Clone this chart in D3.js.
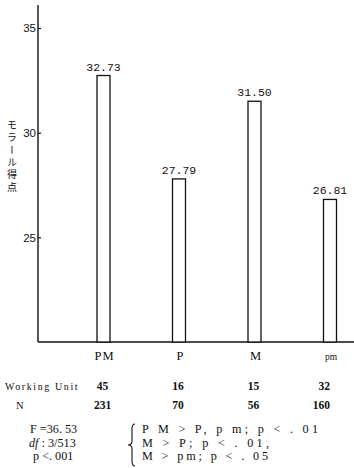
<!DOCTYPE html>
<html><head><meta charset="utf-8">
<script src="https://cdn.jsdelivr.net/npm/d3@7"></script>
<style>body{margin:0;background:#fff}svg{display:block}</style>
</head><body>
<script>
const categories = ["PM", "P", "M", "pm"];
const scores = [32.73, 27.79, 31.50, 26.81];
const scoreLabels = ["32.73", "27.79", "31.50", "26.81"];
const workingUnits = [45, 16, 15, 32];
const nValues = [231, 70, 56, 160];
const yTicks = [25, 30, 35];
const yLabel = "モラール得点";
const statsLeft = ["F =36. 53", "df : 3/513", "p <. 001"];
const statsRight = ["P M > P, p m; p < . 01", "M > P; p < . 01,", "M > pm; p < . 05"];

const W = 354, H = 468;
const svg = d3.select("body").append("svg").attr("width", W).attr("height", H);
const x0 = 38, yBase = 342;
const y = d3.scaleLinear().domain([20, 35]).range([yBase, 28]);
const x = d3.scalePoint().domain(categories).range([103.5, 330]);
const barW = 13;
const ink = "#111";
const serif = "Liberation Serif, Times New Roman, serif";

// y axis
const yAxis = d3.axisLeft(y).tickValues(yTicks).tickSize(-3).tickPadding(2).tickFormat(d3.format("d"));
const ga = svg.append("g").attr("transform", `translate(${x0},0)`).call(yAxis);
ga.select(".domain").remove();
ga.selectAll(".tick line").attr("stroke", ink).attr("stroke-width", 1.2);
ga.selectAll(".tick text").attr("font-family", "Liberation Sans, Arial, sans-serif").attr("font-size", 11.5).attr("fill", ink);
svg.append("line").attr("x1", x0).attr("x2", x0).attr("y1", y(36.1)).attr("y2", yBase)
  .attr("stroke", ink).attr("stroke-width", 1.4);
svg.append("line").attr("x1", x0).attr("x2", W).attr("y1", yBase).attr("y2", yBase)
  .attr("stroke", ink).attr("stroke-width", 1.4);

// bars
svg.selectAll("rect.bar").data(categories).enter().append("rect")
  .attr("class", "bar")
  .attr("x", d => x(d) - barW / 2)
  .attr("y", (d, i) => y(scores[i]))
  .attr("width", barW)
  .attr("height", (d, i) => yBase - y(scores[i]))
  .attr("fill", "#fff").attr("stroke", ink).attr("stroke-width", 1.3);

// value labels
svg.selectAll("text.val").data(categories).enter().append("text")
  .attr("x", d => x(d))
  .attr("y", (d, i) => y(scores[i]) - 5)
  .attr("text-anchor", "middle")
  .attr("font-family", "Liberation Mono, DejaVu Sans Mono, monospace")
  .attr("font-size", 11.5).attr("fill", ink)
  .text((d, i) => scoreLabels[i]);

// y label (vertical writing)
svg.append("text")
  .attr("x", 12).attr("y", 120)
  .attr("font-family", "Noto Sans CJK JP, sans-serif")
  .attr("font-size", 10)
  .attr("letter-spacing", 2.4)
  .attr("fill", ink)
  .style("writing-mode", "vertical-rl")
  .style("text-orientation", "upright")
  .text(yLabel);

// category labels
svg.selectAll("text.cat").data(categories).enter().append("text")
  .attr("x", d => x(d) + 1)
  .attr("y", 360)
  .attr("text-anchor", "middle")
  .attr("font-family", serif)
  .attr("font-size", d => d === "pm" ? 9.5 : 12.5)
  .attr("letter-spacing", d => d === "PM" ? 1 : 0)
  .attr("fill", ink)
  .text(d => d);

// table rows
svg.append("text").attr("x", 5).attr("y", 390).attr("font-family", serif)
  .attr("font-size", 10).attr("letter-spacing", 1.6).attr("fill", ink).text("Working Unit");
svg.append("text").attr("x", 16).attr("y", 409).attr("font-family", serif)
  .attr("font-size", 10.5).attr("fill", ink).text("N");
function row(vals, yy) {
  svg.selectAll(null).data(categories).enter().append("text")
    .attr("x", (d, i) => i === categories.length - 1 ? x(d) : x(d) - 1)
    .attr("y", yy)
    .attr("text-anchor", (d, i) => i === categories.length - 1 ? "end" : "middle")
    .attr("font-family", serif).attr("font-size", 11.5).attr("font-weight", 600)
    .attr("fill", ink)
    .text((d, i) => vals[i]);
}
row(workingUnits, 390);
row(nValues, 409);

// stats
const sy = [433, 446.5, 460];
const lx = [30, 29, 33];
statsLeft.forEach((s, i) => {
  const t = svg.append("text").attr("x", lx[i]).attr("y", sy[i]).attr("font-family", serif)
    .attr("font-size", 12.2).attr("fill", ink);
  if (i === 1) {
    t.append("tspan").attr("font-style", "italic").text("df");
    t.append("tspan").text(s.slice(2));
  } else t.text(s);
});
const rw = [176, 127, 126];
statsRight.forEach((s, i) => {
  svg.append("text").attr("x", 142).attr("y", sy[i]).attr("font-family", serif)
    .attr("font-size", 12.2).attr("fill", ink)
    .attr("textLength", rw[i]).attr("lengthAdjust", "spacing").text(s);
});
// brace
const bx = 132, bt = 424, bb = 466, bm = (bt + bb) / 2;
svg.append("path")
  .attr("d", `M${bx + 3},${bt} Q${bx},${bt} ${bx},${bt + 5} L${bx},${bm - 4} Q${bx},${bm} ${bx - 4},${bm} Q${bx},${bm} ${bx},${bm + 4} L${bx},${bb - 5} Q${bx},${bb} ${bx + 3},${bb}`)
  .attr("fill", "none").attr("stroke", ink).attr("stroke-width", 1.1);
</script>
</body></html>
